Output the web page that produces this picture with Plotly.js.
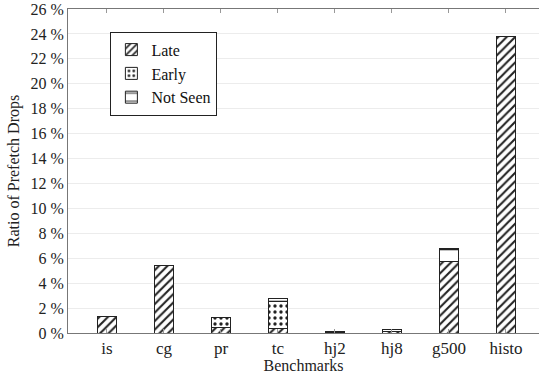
<!DOCTYPE html>
<html>
<head>
<meta charset="utf-8">
<script src="https://cdn.plot.ly/plotly-3.0.1.min.js"></script>
<style>html,body{margin:0;padding:0;background:#fff;}#chart{width:539px;height:374px;}</style>
</head>
<body>
<div id="chart"></div>
<script>
const benchmarks = ["is", "cg", "pr", "tc", "hj2", "hj8", "g500", "histo"];
const late = [1.35, 5.4, 0.45, 0.35, 0.05, 0.1, 5.75, 23.8];
const early = [0, 0, 0.8, 2.15, 0, 0, 0, 0];
const notSeen = [0, 0, 0, 0.25, 0.05, 0.15, 1.0, 0];
const yTicks = [0, 2, 4, 6, 8, 10, 12, 14, 16, 18, 20, 22, 24, 26];

const FAM = "Times New Roman, Liberation Serif, DejaVu Serif, serif";
const font = {family: FAM, color: "#222", size: 16};
const barLine = {color: "#222", width: 1};

function mk(name, vals, shape, size, solidity) {
  return {
    type: "bar", name: name, x: benchmarks, y: vals, width: 0.33,
    marker: {color: "#fff", line: barLine,
      pattern: {shape: shape, fgcolor: "#222", bgcolor: "#fff", size: size, solidity: solidity}},
    hoverinfo: "skip"
  };
}

const data = [
  mk("Late", late, "/", 6, 0.35),
  mk("Early", early, ".", 6, 0.25),
  mk("Not Seen", notSeen, "-", 13, 0.12)
];

const layout = {
  width: 539, height: 374,
  margin: {l: 68, r: 0, t: 9, b: 41},
  paper_bgcolor: "#fff", plot_bgcolor: "#fff",
  font: font,
  barmode: "stack",
  showlegend: true,
  legend: {x: 0.09, y: 0.93, xanchor: "left", yanchor: "top",
    bgcolor: "#fff", bordercolor: "#222", borderwidth: 1,
    font: {family: FAM, size: 16, color: "#111"},
    traceorder: "normal", itemwidth: 30, tracegroupgap: 0},
  xaxis: {
    range: [-0.684, 7.58], type: "category",
    showline: true, linecolor: "#777", linewidth: 1, mirror: "ticks",
    ticks: "inside", ticklen: 4, tickcolor: "#999",
    showgrid: false, zeroline: false,
    tickfont: {family: FAM, size: 17, color: "#222"},
    title: {text: "Benchmarks", font: {family: FAM, size: 16, color: "#222"}, standoff: 0}
  },
  yaxis: {
    range: [0, 26], tickvals: yTicks, ticktext: yTicks.map(v => v + " %"),
    showline: true, linecolor: "#777", linewidth: 1, mirror: true,
    ticks: "", showgrid: true, gridcolor: "#ececec", gridwidth: 1, zeroline: false,
    tickfont: {family: FAM, size: 16, color: "#222"},
    title: {text: "Ratio of Prefetch Drops", font: {family: FAM, size: 16, color: "#222"}, standoff: 6}
  }
};

Plotly.newPlot("chart", data, layout, {staticPlot: true, displayModeBar: false});
</script>
</body>
</html>
